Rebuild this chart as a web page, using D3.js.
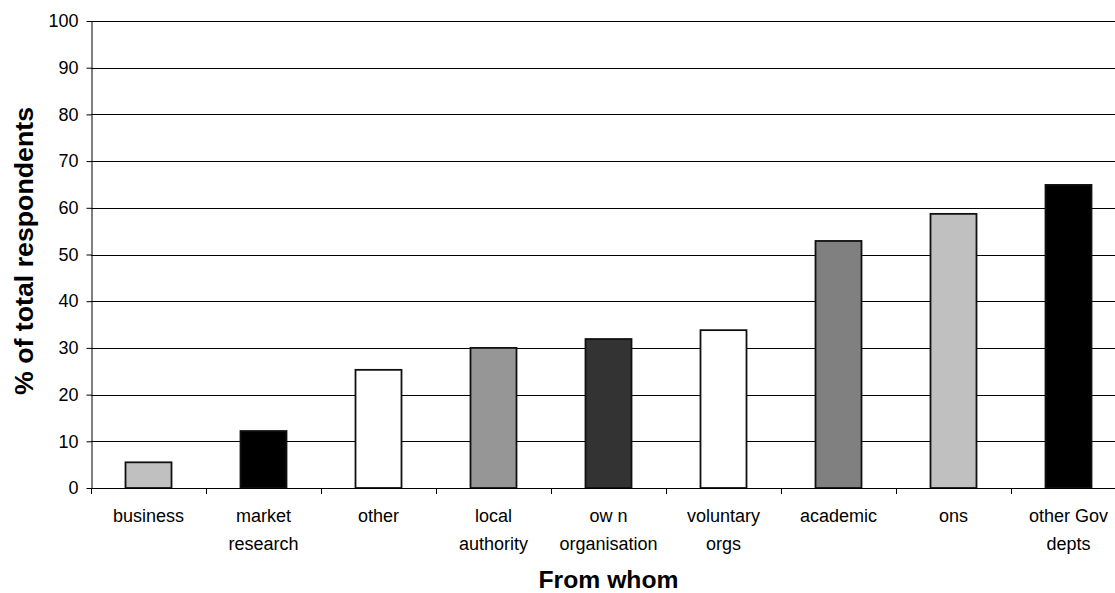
<!DOCTYPE html>
<html>
<head>
<meta charset="utf-8">
<script src="https://cdn.jsdelivr.net/npm/d3@7"></script>
<style>
  html, body { margin: 0; padding: 0; background: #fff; }
  svg { display: block; font-family: "Liberation Sans", Arial, sans-serif; }
</style>
</head>
<body>
<svg id="chart" width="1115" height="593"></svg>
<script>
// Sources respondents get statistics from
const categories = [
  ["business"],
  ["market", "research"],
  ["other"],
  ["local", "authority"],
  ["ow n", "organisation"],
  ["voluntary", "orgs"],
  ["academic"],
  ["ons"],
  ["other Gov", "depts"]
];
const values = [5.5, 12.2, 25.3, 30.0, 31.9, 33.8, 52.9, 58.7, 64.9];
const fills = ["#c0c0c0", "#000000", "#ffffff", "#969696", "#333333", "#ffffff", "#808080", "#c0c0c0", "#000000"];
const yTicks = [0, 10, 20, 30, 40, 50, 60, 70, 80, 90, 100];

const svg = d3.select("#chart");
const margin = { left: 91, top: 21, right: 1126, bottom: 488 };

const keys = categories.map(c => c.join(" "));
const x = d3.scaleBand().domain(keys).range([margin.left, margin.right]).paddingInner(0.6).paddingOuter(0.3);
const xb = d3.scaleBand().domain(keys).range([margin.left, margin.right]);
const y = d3.scaleLinear().domain([0, 100]).range([margin.bottom, margin.top]);

// horizontal gridlines
svg.append("g")
  .selectAll("line")
  .data(yTicks.filter(t => t > 0))
  .join("line")
  .attr("x1", margin.left).attr("x2", margin.right)
  .attr("y1", d => Math.round(y(d)) + 0.5).attr("y2", d => Math.round(y(d)) + 0.5)
  .attr("stroke", "#000").attr("stroke-width", 1);

// bars
svg.append("g")
  .selectAll("rect")
  .data(values)
  .join("rect")
  .attr("x", (d, i) => x(keys[i]))
  .attr("width", x.bandwidth())
  .attr("y", d => y(d))
  .attr("height", d => y(0) - y(d))
  .attr("fill", (d, i) => fills[i])
  .attr("stroke", "#111")
  .attr("stroke-width", 1.8);

// y axis
const yAxis = svg.append("g")
  .attr("transform", `translate(${margin.left + 0.5},0)`)
  .call(d3.axisLeft(y).tickValues(yTicks).tickSize(5).tickPadding(8).tickSizeOuter(0));
yAxis.select(".domain").attr("stroke", "#000");
yAxis.selectAll(".tick line").attr("stroke", "#000");
yAxis.selectAll(".tick text").attr("font-size", "18px").attr("fill", "#000")
  .attr("font-family", "Liberation Sans, Arial, sans-serif");

// x axis with ticks at band boundaries
const xAxisG = svg.append("g");
xAxisG.append("line")
  .attr("x1", margin.left).attr("x2", margin.right)
  .attr("y1", Math.round(y(0)) + 0.5).attr("y2", Math.round(y(0)) + 0.5)
  .attr("stroke", "#000");
xAxisG.selectAll("line.tk")
  .data(keys)
  .join("line")
  .attr("class", "tk")
  .attr("x1", d => Math.round(xb(d)) + 0.5).attr("x2", d => Math.round(xb(d)) + 0.5)
  .attr("y1", Math.round(y(0))).attr("y2", Math.round(y(0)) + 6)
  .attr("stroke", "#000");

// category labels
const labels = svg.append("g")
  .selectAll("text")
  .data(categories)
  .join("text")
  .attr("text-anchor", "middle")
  .attr("font-size", "18px")
  .attr("fill", "#000");
labels.each(function(lines, i) {
  const cx = xb(keys[i]) + xb.bandwidth() / 2;
  d3.select(this).selectAll("tspan")
    .data(lines)
    .join("tspan")
    .attr("x", cx)
    .attr("y", (d, j) => 522 + j * 28)
    .text(d => d);
});

// axis titles
svg.append("text")
  .attr("x", (margin.left + margin.right) / 2)
  .attr("y", 588)
  .attr("text-anchor", "middle")
  .attr("font-size", "24px")
  .attr("font-weight", "bold")
  .attr("textLength", 140)
  .attr("lengthAdjust", "spacingAndGlyphs")
  .text("From whom");

svg.append("text")
  .attr("transform", "translate(33,251) rotate(-90)")
  .attr("text-anchor", "middle")
  .attr("font-size", "25px")
  .attr("font-weight", "bold")
  .attr("textLength", 288)
  .attr("lengthAdjust", "spacingAndGlyphs")
  .text("% of total respondents");
</script>
</body>
</html>
